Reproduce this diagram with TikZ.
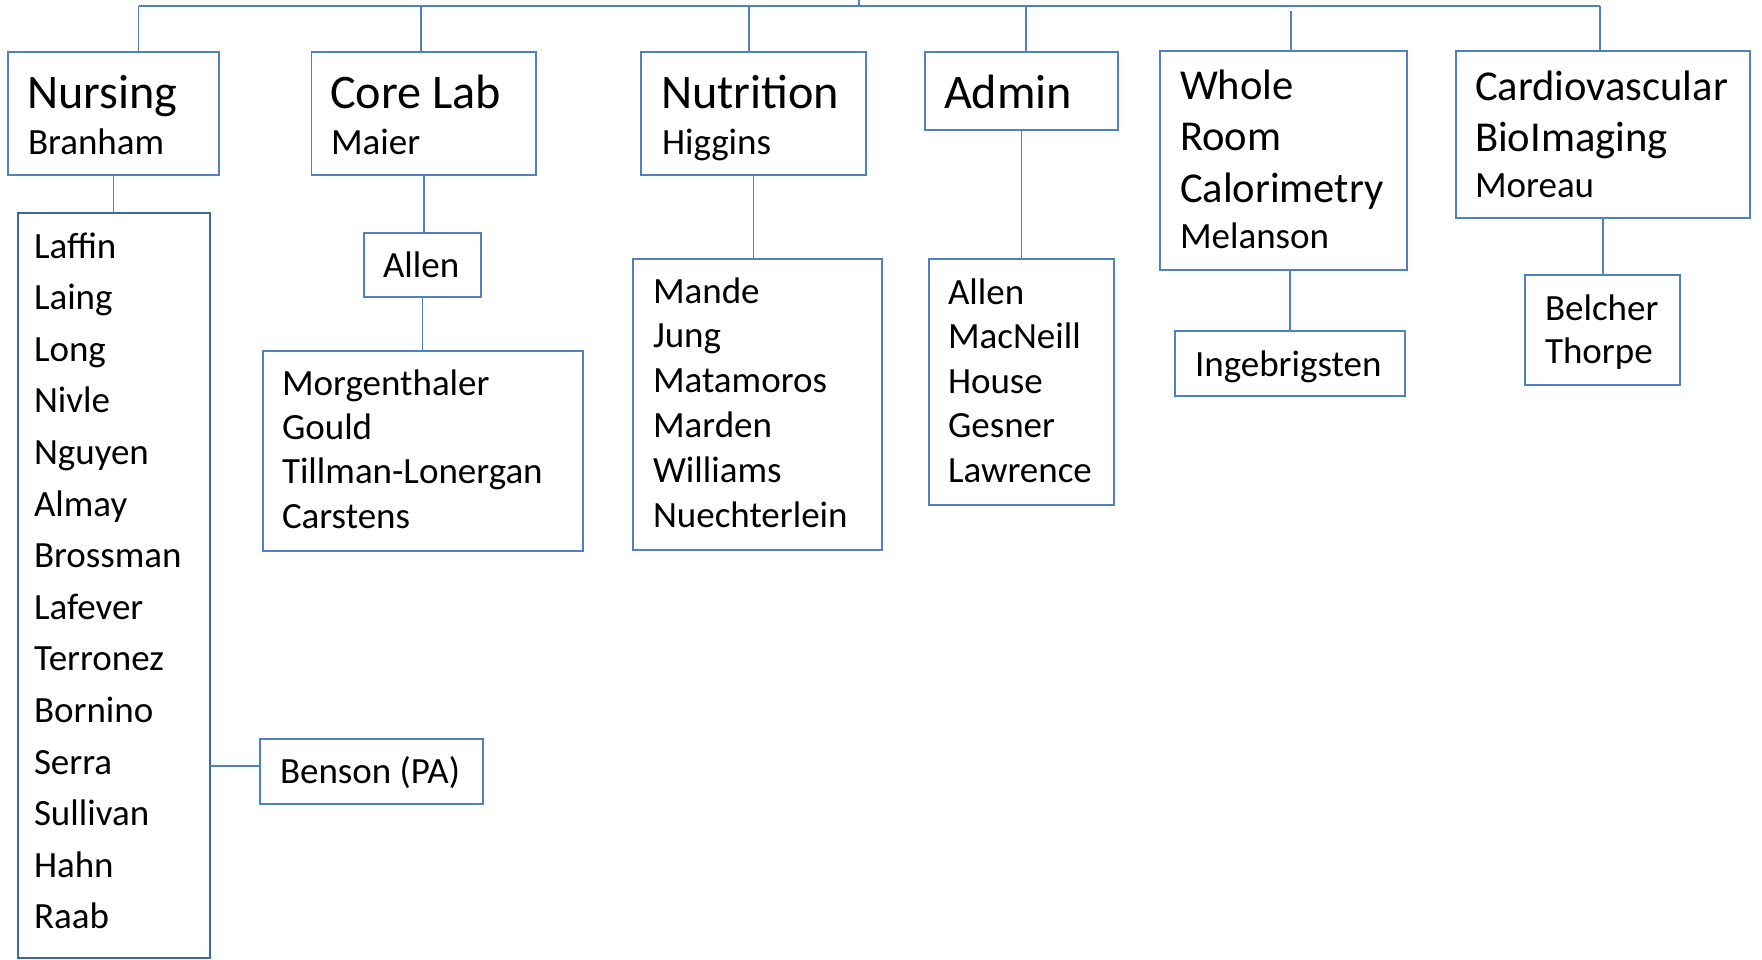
\documentclass[tikz,border=0pt]{standalone}
\usepackage{fontspec}
\setmainfont{Carlito}
\usetikzlibrary{fit}
\definecolor{ln}{HTML}{4F81BD}
\definecolor{lnd}{HTML}{3F6797}
\newcommand\stk[2]{\vtop{\baselineskip=#1pt\lineskiplimit=-100pt\halign{##\hfil\cr#2\crcr}}}
\begin{document}
\begin{tikzpicture}[x=0.5pt,y=-0.5pt,
  box/.style={draw=ln, line width=0.9pt, inner sep=0pt, outer sep=0pt},
  bigbox/.style={draw=lnd, line width=1.2pt, inner sep=0pt, outer sep=0pt},
  txt/.style={inner sep=0pt, outer sep=0pt, anchor=base west, text=black},
  big/.style={font=\fontsize{24.1}{29}\selectfont},
  mid/.style={font=\fontsize{21.3}{25}\selectfont},
  nm/.style={font=\fontsize{18.5}{22}\selectfont},
  conn/.style={draw=ln, line width=0.8pt}]
\useasboundingbox (0,0) rectangle (1762,959);

% ---------- boxes ----------
\node[box, fit={(8,52) (219,175)}] (nurs) {};
\node[bigbox, fit={(18,213) (210,958)}] (nlist) {};
\node[box, fit={(260,739) (483,804)}] (benson) {};

\node[box, fit={(311.5,52) (536,175)}] (core) {};
\node[box, fit={(364,233) (481,297)}] (callen) {};
\node[box, fit={(263,351) (583,551)}] (clist) {};

\node[box, fit={(641,52) (866,175)}] (nutr) {};
\node[box, fit={(633,259) (882,550)}] (ntlist) {};

\node[box, fit={(925,52) (1118,130)}] (admin) {};
\node[box, fit={(929,259) (1114,505)}] (alist) {};

\node[box, fit={(1160,51) (1407,270)}] (wrc) {};
\node[box, fit={(1175,331) (1405,396)}] (inge) {};

\node[box, fit={(1456,51) (1750,218)}] (cardio) {};
\node[box, fit={(1525,275) (1680,385)}] (belcher) {};

% ---------- texts ----------
\node[txt, big] (nurs-t) at (27,108) {Nursing};
\node[txt, nm] (nurs-s) at (28,154) {Branham};
\node[txt, nm] (nlist-t) at (34,258) {\stk{25.8}{Laffin\cr Laing\cr Long\cr Nivle\cr Nguyen\cr Almay\cr Brossman\cr Lafever\cr Terronez\cr Bornino\cr Serra\cr Sullivan\cr Hahn\cr Raab}};
\node[txt, nm] (benson-t) at (280,783) {Benson (PA)};

\node[txt, big] (core-t) at (330,108) {Core Lab};
\node[txt, nm] (core-s) at (331,154) {Maier};
\node[txt, nm] (callen-t) at (383,277) {Allen};
\node[txt, nm] (clist-t) at (282,395) {\stk{22.2}{Morgenthaler\cr Gould\cr Tillman-Lonergan\cr Carstens}};

\node[txt, big] (nutr-t) at (661,108) {Nutrition};
\node[txt, nm] (nutr-s) at (662,154) {Higgins};
\node[txt, nm] (ntlist-t) at (653,303) {\stk{22.4}{Mande\cr Jung\cr Matamoros\cr Marden\cr Williams\cr Nuechterlein}};

\node[txt, big] (admin-t) at (944,108) {Admin};
\node[txt, nm] (alist-t) at (948,304) {\stk{22.25}{Allen\cr MacNeill\cr House\cr Gesner\cr Lawrence}};

\node[txt, mid] (wrc-t) at (1180,99) {\stk{25.75}{Whole\cr Room\cr Calorimetry}};
\node[txt, nm] (wrc-s) at (1180,248) {Melanson};
\node[txt, nm] (inge-t) at (1195,376) {Ingebrigsten};

\node[txt, mid] (cardio-t) at (1475,100) {\stk{25.5}{Cardiovascular\cr BioImaging}};
\node[txt, nm] (cardio-s) at (1475,197) {Moreau};
\node[txt, nm] (belcher-t) at (1545,320) {\stk{21.5}{Belcher\cr Thorpe}};

% ---------- connectors ----------
\coordinate (root) at (859,0);
\coordinate (rb) at (859,6);
\coordinate (b1) at (138.5,6);
\coordinate (b2) at (421,6);
\coordinate (b3) at (749,6);
\coordinate (b4) at (1026,6);
\coordinate (b5) at (1291,11);
\coordinate (b6) at (1600,6);
\draw[conn] (root) -- (rb);
\draw[conn] (b1) -- (b6);
\draw[conn] (b1) -- (b1 |- nurs.north);
\draw[conn] (b2) -- (b2 |- core.north);
\draw[conn] (b3) -- (b3 |- nutr.north);
\draw[conn] (b4) -- (b4 |- admin.north);
\draw[conn] (b5) -- (b5 |- wrc.north);
\draw[conn] (b6) -- (b6 |- cardio.north);

\draw[conn] (nurs.south) -- (nurs.south |- nlist.north);
\draw[conn] (nlist.east |- 0,766) -- (benson.west |- 0,766);
\draw[conn] (core.south) -- (core.south |- callen.north);
\draw[conn] (callen.south) -- (callen.south |- clist.north);
\draw[conn] (nutr.south) -- (nutr.south |- ntlist.north);
\draw[conn] (admin.south) -- (admin.south |- alist.north);
\draw[conn] (inge.north |- wrc.south) -- (inge.north);
\draw[conn] (cardio.south) -- (cardio.south |- belcher.north);
\end{tikzpicture}
\end{document}
